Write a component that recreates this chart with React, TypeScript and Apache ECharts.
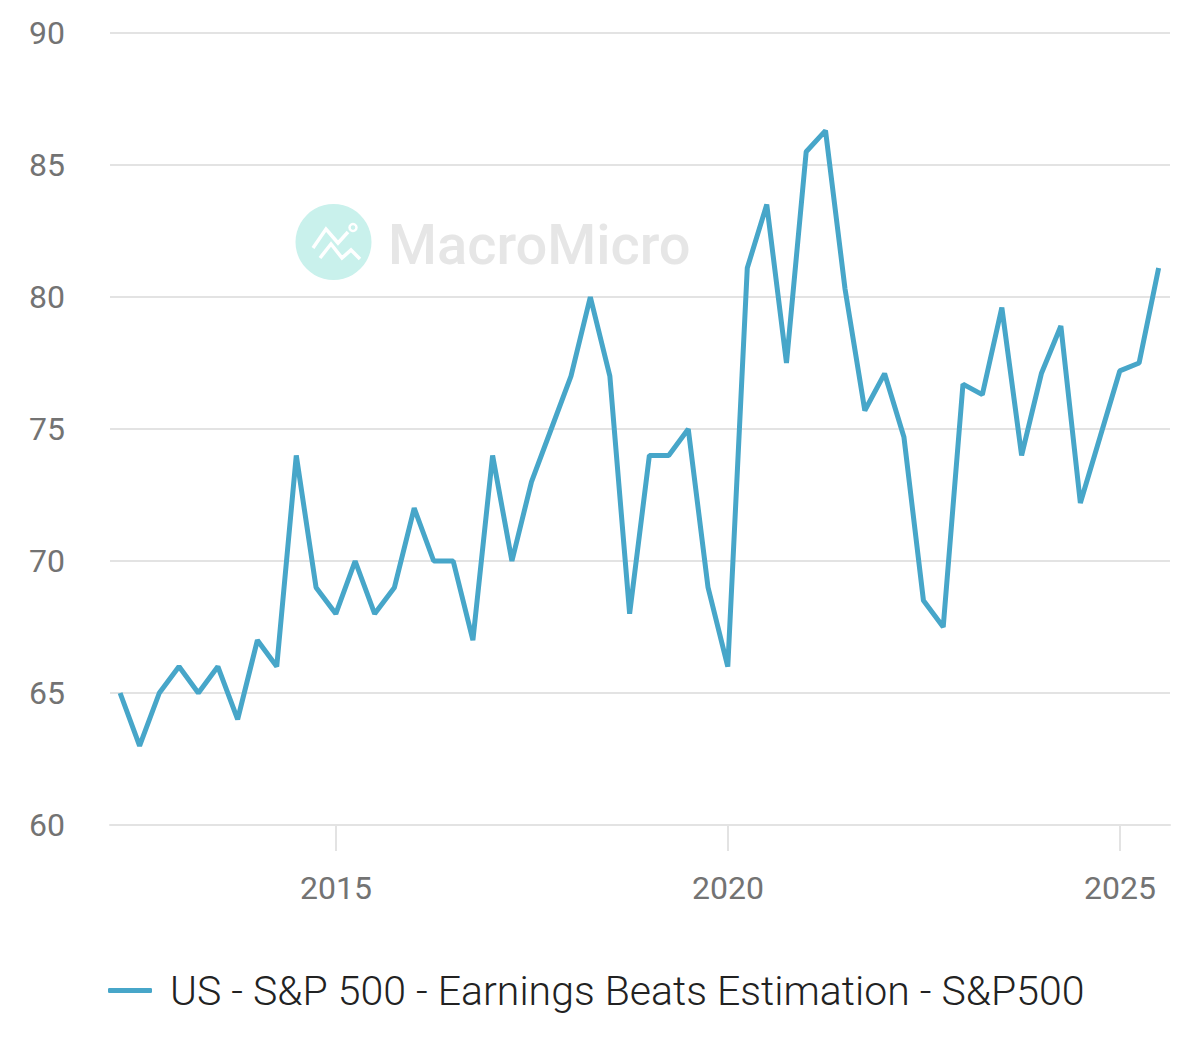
import { useEffect, useRef } from 'react';
import * as echarts from 'echarts';

const SERIES_NAME = 'US - S&P 500 - Earnings Beats Estimation - S&P500';

// quarter end dates, 2012 Q1 .. 2025 Q2
const quarterDates = [
  '2012-03-31', '2012-06-30', '2012-09-30', '2012-12-31',
  '2013-03-31', '2013-06-30', '2013-09-30', '2013-12-31',
  '2014-03-31', '2014-06-30', '2014-09-30', '2014-12-31',
  '2015-03-31', '2015-06-30', '2015-09-30', '2015-12-31',
  '2016-03-31', '2016-06-30', '2016-09-30', '2016-12-31',
  '2017-03-31', '2017-06-30', '2017-09-30', '2017-12-31',
  '2018-03-31', '2018-06-30', '2018-09-30', '2018-12-31',
  '2019-03-31', '2019-06-30', '2019-09-30', '2019-12-31',
  '2020-03-31', '2020-06-30', '2020-09-30', '2020-12-31',
  '2021-03-31', '2021-06-30', '2021-09-30', '2021-12-31',
  '2022-03-31', '2022-06-30', '2022-09-30', '2022-12-31',
  '2023-03-31', '2023-06-30', '2023-09-30', '2023-12-31',
  '2024-03-31', '2024-06-30', '2024-09-30', '2024-12-31',
  '2025-03-31', '2025-06-30',
];

// % of companies beating estimates
const beatPct = [
  65, 63, 65, 66, 65, 66, 64, 67,
  66, 74, 69, 68, 70, 68, 69, 72,
  70, 70, 67, 74, 70, 73, 75, 77,
  80, 77, 68, 74, 74, 75, 69, 66,
  81.1, 83.5, 77.5, 85.5, 86.3, 80.3, 75.7, 77.1,
  74.7, 68.5, 67.5, 76.7, 76.3, 79.6, 74.0, 77.1,
  78.9, 72.2, 74.7, 77.2, 77.5, 81.1,
];

const yearTicks = [2015, 2020, 2025];
const yTicks = { min: 60, max: 90, step: 5 };

const FONT = 'Roboto';
const LINE_COLOR = '#47a6c9';
const GRID_COLOR = '#e3e3e3';
const LABEL_COLOR = '#737373';

// date string -> decimal year, so the x axis can be a plain value axis
const toYear = (s: string) => {
  const [y, m, d] = s.split('-').map(Number);
  const t = Date.UTC(y, m - 1, d);
  const a = Date.UTC(y, 0, 1);
  const b = Date.UTC(y + 1, 0, 1);
  return y + (t - a) / (b - a);
};

function App() {
  const divEl = useRef<HTMLDivElement>(null);

  useEffect(() => {
    const chart = echarts.init(divEl.current as any, null, { renderer: 'svg' });

    const option: any = {
      animation: false,
      textStyle: { fontFamily: FONT },
      grid: { left: 102, right: 22, top: 25, bottom: 217 },
      graphic: [
        {
          type: 'group',
          z: 0,
          children: [
            { type: 'circle', shape: { cx: 325.5, cy: 234, r: 38 }, style: { fill: '#c9f1ec' } },
            {
              type: 'polyline',
              shape: { points: [[305, 240], [318, 221], [330, 235], [340, 224]] },
              style: { stroke: '#ffffff', lineWidth: 3.5, fill: null },
            },
            {
              type: 'polyline',
              shape: { points: [[312, 250], [323, 236], [334, 250], [343, 242], [352, 251]] },
              style: { stroke: '#ffffff', lineWidth: 3.5, fill: null },
            },
            { type: 'circle', shape: { cx: 345, cy: 219.5, r: 3.5 }, style: { fill: null, stroke: '#ffffff', lineWidth: 2.5 } },
            {
              type: 'text',
              x: 380,
              y: 237,
              style: {
                text: 'MacroMicro',
                fontFamily: FONT,
                fontSize: 56,
                fontWeight: 500,
                fill: '#e6e6e6',
                verticalAlign: 'middle',
              },
            },
          ],
        },
      ],
      legend: {
        left: 100,
        top: 962,
        padding: 0,
        icon: 'roundRect',
        itemWidth: 44,
        itemHeight: 5,
        textStyle: { fontSize: 41, fontWeight: 300, color: '#222222', fontFamily: FONT, padding: [0, 0, 0, 13] },
        data: [SERIES_NAME],
      },
      xAxis: {
        type: 'value',
        min: 2012.117,
        max: 2025.638,
        axisLine: { show: true, lineStyle: { color: GRID_COLOR, width: 2 } },
        axisTick: {
          show: true,
          length: 26,
          customValues: yearTicks,
          lineStyle: { color: GRID_COLOR, width: 2 },
        },
        axisLabel: {
          customValues: yearTicks,
          margin: 47,
          fontSize: 32,
          color: LABEL_COLOR,
          fontFamily: FONT,
          formatter: (v: number) => String(Math.round(v)),
        },
        splitLine: { show: false },
      },
      yAxis: {
        type: 'value',
        min: yTicks.min,
        max: yTicks.max,
        interval: yTicks.step,
        axisLine: { show: false },
        axisTick: { show: false },
        axisLabel: { fontSize: 32, color: LABEL_COLOR, margin: 45, fontFamily: FONT },
        splitLine: { lineStyle: { color: GRID_COLOR, width: 2 } },
      },
      series: [
        {
          name: SERIES_NAME,
          type: 'line',
          data: quarterDates.map((d, i) => [toYear(d), beatPct[i]]),
          showSymbol: false,
          symbol: 'none',
          color: LINE_COLOR,
          lineStyle: { color: LINE_COLOR, width: 5 },
          z: 3,
        },
      ],
    };

    chart.setOption(option);
    return () => {
      chart.dispose();
    };
  }, []);

  return <div ref={divEl} style={{ width: '1184px', height: '1034px' }}></div>;
}

export default App;
